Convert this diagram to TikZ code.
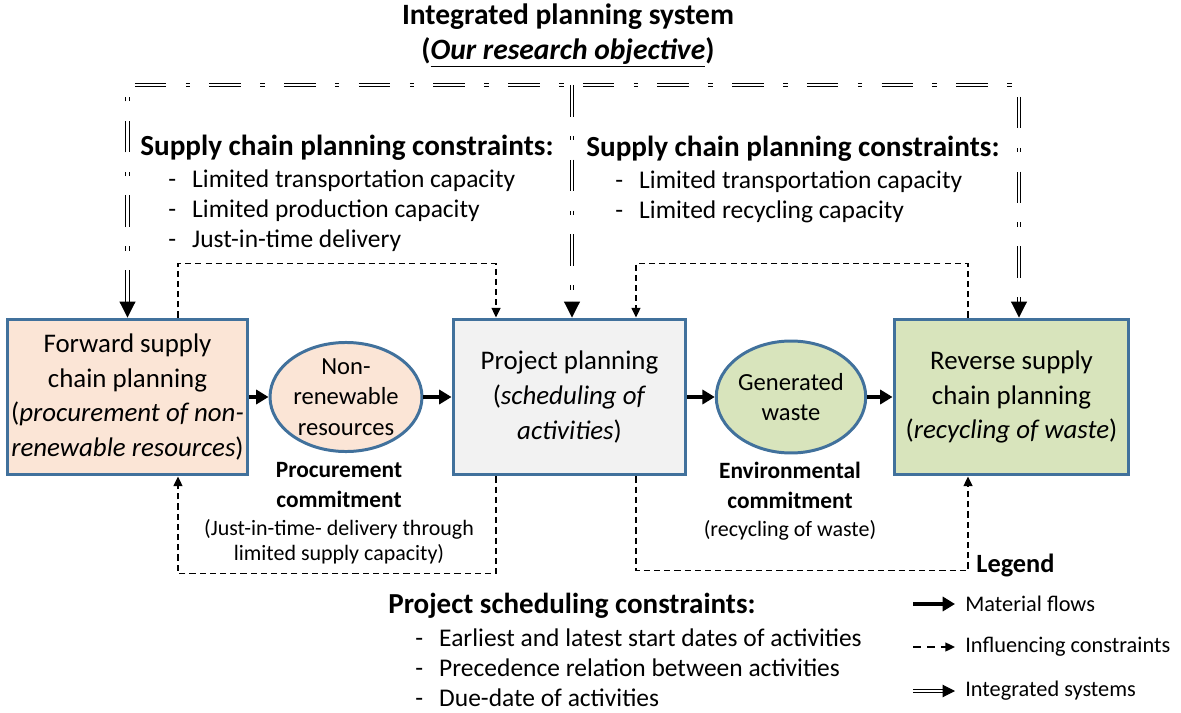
\documentclass[tikz,border=0pt]{standalone}
\usepackage{fontspec}
\setmainfont{Carlito}
\usetikzlibrary{shapes.geometric,arrows.meta}
\definecolor{boxblue}{HTML}{41719C}
\definecolor{fwdfill}{HTML}{FBE5D6}
\definecolor{pjfill}{HTML}{F2F2F2}
\definecolor{rvfill}{HTML}{D8E4BC}
\newcommand{\itm}[1]{\makebox[13.6pt][l]{-}#1}

\begin{document}
\begin{tikzpicture}[x=0.02cm, y=-0.02cm]
\tikzstyle{planbox} = [draw=boxblue, line width=1.7pt, minimum height=3.12cm, inner sep=2pt, align=center, font=\fontsize{15.3}{19.8}\selectfont]
\tikzstyle{resnode} = [ellipse, draw=boxblue, line width=1.7pt, inner sep=0pt, align=center, font=\fontsize{14}{17.4}\selectfont]
\tikzstyle{flow} = [line width=2.2pt, -{Triangle[length=7pt,width=8pt]}]
\tikzstyle{influence} = [line width=1.1pt, dash pattern=on 3.5pt off 2.3pt, -{Triangle[length=5.5pt,width=5pt]}]
\tikzstyle{intsys} = [line width=0.8pt, double distance=1.2pt, dash pattern=on 18pt off 11pt on 2.5pt off 11pt]
\tikzstyle{inttip} = [line width=0.6pt, -{Triangle[length=9pt,width=9pt]}]
\tikzstyle{heading} = [font=\bfseries\fontsize{16.6}{19}\selectfont, anchor=west, inner sep=0pt]
\tikzstyle{itemlist} = [font=\fontsize{14.5}{17}\selectfont, anchor=west, align=left, inner sep=0pt]
\tikzstyle{commit} = [font=\bfseries\fontsize{13.3}{17}\selectfont, align=center, inner sep=0pt]
\tikzstyle{note} = [font=\fontsize{12.5}{14.2}\selectfont, align=center, inner sep=0pt]
\tikzstyle{legtext} = [font=\fontsize{12.7}{15}\selectfont, anchor=west, inner sep=0pt]

\useasboundingbox (0,0) rectangle (1181,713);

\node[commit, font=\bfseries\fontsize{16.8}{19.5}\selectfont] (title) at (568,36)
  {Integrated planning system\\(\underline{\textit{Our research objective}})};

\node[planbox, fill=fwdfill, minimum width=4.7cm] (fsc) at (127.5,397)
  {Forward supply\\chain planning\\(\textit{procurement of non-}\\\textit{renewable resources})};
\node[resnode, fill=fwdfill, minimum width=3.04cm, minimum height=2.14cm] (nrr) at (346,397)
  {Non-\\renewable\\resources};
\node[planbox, fill=pjfill, minimum width=4.66cm] (pj) at (569.5,397)
  {Project planning\\(\textit{scheduling of}\\\textit{activities})};
\node[resnode, fill=rvfill, minimum width=2.96cm, minimum height=2.24cm] (gw) at (791,397)
  {Generated\\waste};
\node[planbox, fill=rvfill, minimum width=4.7cm] (rsc) at (1011.5,397)
  {Reverse supply\\chain planning\\(\textit{recycling of waste})};

\draw[flow] (fsc.east) -- (nrr.west);
\draw[flow] (nrr.east) -- (pj.west);
\draw[flow] (pj.east) -- (gw.west);
\draw[flow] (gw.east) -- (rsc.west);

\draw[influence] ([xshift=1.01cm]fsc.north) -- ++(0,-54) -| ([xshift=-1.47cm]pj.north);
\draw[influence] ([xshift=-0.87cm]rsc.north) -- ++(0,-54) -| ([xshift=1.33cm]pj.north);
\draw[influence] ([xshift=-1.47cm]pj.south) -- ++(0,97) -| ([xshift=1.01cm]fsc.south);
\draw[influence] ([xshift=1.33cm]pj.south) -- ++(0,94) -| ([xshift=-0.87cm]rsc.south);

\coordinate (top) at (572,85);
\draw[intsys, shorten <=9pt, shorten >=9pt] (fsc.north) |- (top) -| ([xshift=0.15cm]rsc.north);
\draw[intsys, shorten >=9pt] (top) -- (top |- pj.north);
\draw[inttip] ([yshift=9pt]fsc.north) -- (fsc.north);
\draw[inttip] ([yshift=9pt]top |- pj.north) -- (top |- pj.north);
\draw[inttip] ([xshift=0.15cm,yshift=9pt]rsc.north) -- ([xshift=0.15cm]rsc.north);

\node[heading] (sclh) at (140,148) {Supply chain planning constraints:};
\node[itemlist] (scll) at (168,211)
  {\itm{Limited transportation capacity}\\\itm{Limited production capacity}\\\itm{Just-in-time delivery}};
\node[heading] (scrh) at (586,149) {Supply chain planning constraints:};
\node[itemlist] (scrl) at (615,197)
  {\itm{Limited transportation capacity}\\\itm{Limited recycling capacity}};

\node[commit] (pcom) at (339,485) {Procurement\\commitment};
\node[note] (pnote) at (339,542) {(Just-in-time- delivery through\\limited supply capacity)};
\node[commit] (ecom) at (790,485) {Environmental\\commitment};
\node[note] (enote) at (790,530) {(recycling of waste)};

\node[heading, font=\bfseries\fontsize{16.5}{19}\selectfont] (psh) at (388,606) {Project scheduling constraints:};
\node[itemlist] (psl) at (415,668)
  {\itm{Earliest and latest start dates of activities}\\\itm{Precedence relation between activities}\\\itm{Due-date of activities}};

\node[commit, anchor=west, font=\bfseries\fontsize{15}{17}\selectfont] (leg) at (976,565) {Legend};
\node[legtext] (lmat) at (965,604) {Material flows};
\node[legtext] (linf) at (965,647) {Influencing constraints};
\node[legtext] (lint) at (965,691) {Integrated systems};
\coordinate (mats) at (913,604);
\coordinate (infs) at (913,647);
\coordinate (ints) at (913,691);
\draw[flow] (mats) -- ([xshift=-0.2cm]lmat.west);
\draw[influence, dash pattern=on 4.5pt off 3.5pt] (infs) -- ([xshift=-0.2cm]linf.west);
\draw[line width=0.6pt, double distance=1.2pt, shorten >=7pt] (ints) -- ([xshift=-0.2cm]lint.west);
\draw[line width=0.6pt, -{Triangle[length=7pt,width=7pt]}] ([xshift=-0.2cm-7pt]lint.west) -- ([xshift=-0.2cm]lint.west);
\end{tikzpicture}
\end{document}
